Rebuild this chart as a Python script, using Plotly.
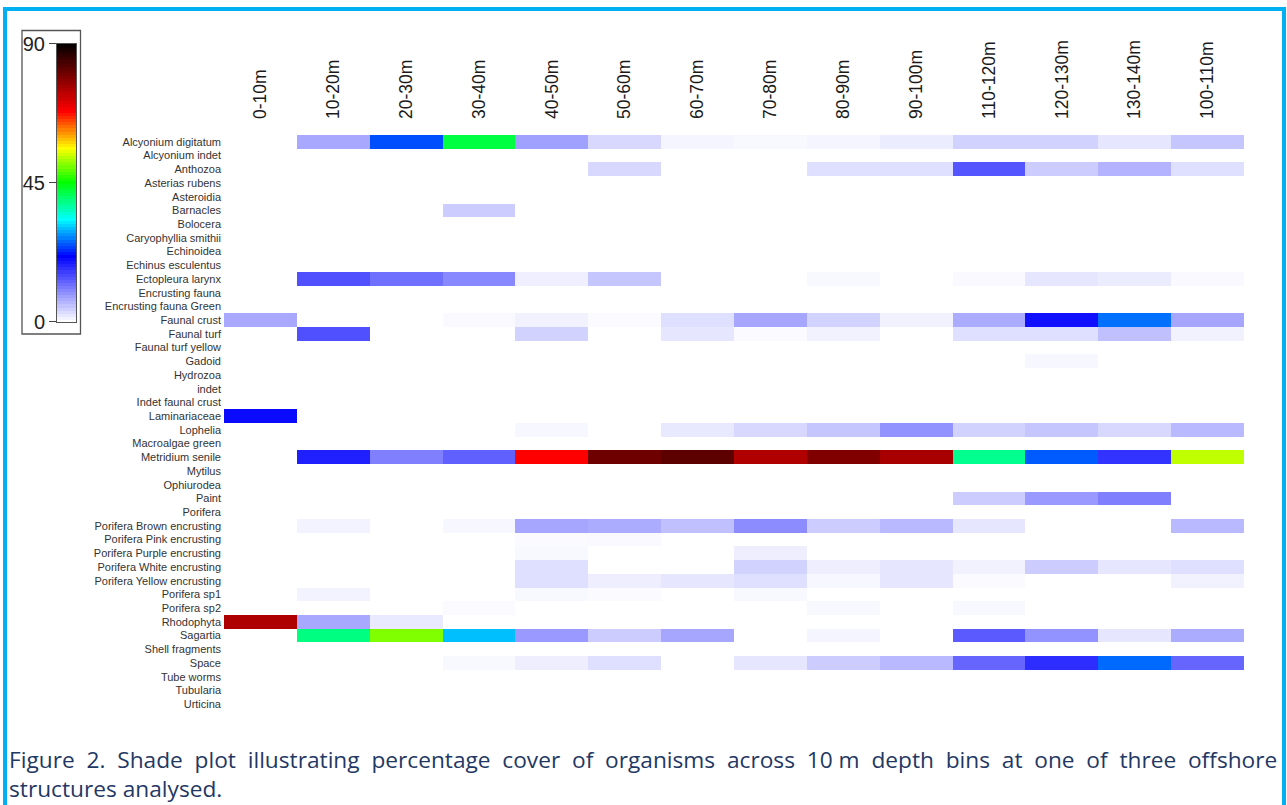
import plotly.graph_objects as go

W, H = 1287, 805

organisms = [
    "Alcyonium digitatum", "Alcyonium indet", "Anthozoa", "Asterias rubens", "Asteroidia",
    "Barnacles", "Bolocera", "Caryophyllia smithii", "Echinoidea", "Echinus esculentus",
    "Ectopleura larynx", "Encrusting fauna", "Encrusting fauna Green", "Faunal crust",
    "Faunal turf", "Faunal turf yellow", "Gadoid", "Hydrozoa", "indet", "Indet faunal crust",
    "Laminariaceae", "Lophelia", "Macroalgae green", "Metridium senile", "Mytilus",
    "Ophiurodea", "Paint", "Porifera", "Porifera Brown encrusting", "Porifera Pink encrusting",
    "Porifera Purple encrusting", "Porifera White encrusting", "Porifera Yellow encrusting",
    "Porifera sp1", "Porifera sp2", "Rhodophyta", "Sagartia", "Shell fragments", "Space",
    "Tube worms", "Tubularia", "Urticina",
]

depth_bins = ["0-10m", "10-20m", "20-30m", "30-40m", "40-50m", "50-60m", "60-70m",
              "70-80m", "80-90m", "90-100m", "110-120m", "120-130m", "130-140m", "100-110m"]

# percentage cover per organism (order of `organisms`), one list per depth bin
d0_10 = [0, 0, 0, 0, 0, 0, 0, 0, 0, 0, 0, 0, 0, 7.2, 0, 0, 0, 0, 0, 0,
         20.2, 0, 0, 0, 0, 0, 0, 0, 0, 0, 0, 0, 0, 0, 0, 75, 0, 0, 0, 0, 0, 0]
d10_20 = [7.2, 0, 0, 0, 0, 0, 0, 0, 0, 0, 14.4, 0, 0, 0, 14.4, 0, 0, 0, 0, 0,
          0, 0, 0, 18.4, 0, 0, 0, 0, 1, 0, 0, 0, 0, 1, 0, 7.2, 39, 0, 0, 0, 0, 0]
d20_30 = [24.7, 0, 0, 0, 0, 0, 0, 0, 0, 0, 11.8, 0, 0, 0, 0, 0, 0, 0, 0, 0,
          0, 0, 0, 10.5, 0, 0, 0, 0, 0, 0, 0, 0, 0, 0, 0, 1.8, 50.5, 0, 0, 0, 0, 0]
d30_40 = [42, 0, 0, 0, 0, 4.2, 0, 0, 0, 0, 9.8, 0, 0, 0.5, 0, 0, 0, 0, 0, 0,
          0, 0, 0, 13.1, 0, 0, 0, 0, 0.7, 0, 0, 0, 0, 0, 0.4, 0, 30, 0, 0.6, 0, 0, 0]
d40_50 = [7.8, 0, 0, 0, 0, 0, 0, 0, 0, 0, 1.3, 0, 0, 1.1, 3.7, 0, 0, 0, 0, 0,
          0, 0.7, 0, 68, 0, 0, 0, 0, 7.3, 0.3, 0.6, 2.6, 2.6, 0.6, 0, 0, 8.4, 0, 1.4, 0, 0, 0]
d50_60 = [3.2, 0, 3.2, 0, 0, 0, 0, 0, 0, 0, 4.7, 0, 0, 0.3, 0, 0, 0, 0, 0, 0,
          0, 0, 0, 80.5, 0, 0, 0, 0, 6.8, 0.5, 0, 0, 1.4, 0.4, 0, 0, 4.2, 0, 2.6, 0, 0, 0]
d60_70 = [0.8, 0, 0, 0, 0, 0, 0, 0, 0, 0, 0, 0, 0, 2.6, 2.1, 0, 0, 0, 0, 0,
          0, 1.9, 0, 82, 0, 0, 0, 0, 5.2, 0, 0, 0, 2.1, 0, 0, 0, 7.3, 0, 0, 0, 0, 0]
d70_80 = [0.6, 0, 0, 0, 0, 0, 0, 0, 0, 0, 0, 0, 0, 7.3, 0.3, 0, 0, 0, 0, 0,
          0, 3.2, 0, 74.8, 0, 0, 0, 0, 9.5, 0, 1.4, 3.7, 2.6, 0.6, 0, 0, 0, 0, 2.1, 0, 0, 0]
d80_90 = [0.8, 0, 2.6, 0, 0, 0, 0, 0, 0, 0, 0.6, 0, 0, 3.7, 1.1, 0, 0, 0, 0, 0,
          0, 4.7, 0, 79, 0, 0, 0, 0, 4.2, 0, 0, 1.4, 0.7, 0, 0.6, 0, 0.8, 0, 4.2, 0, 0, 0]
d90_100 = [1.6, 0, 2.6, 0, 0, 0, 0, 0, 0, 0, 0, 0, 0, 1.1, 0, 0, 0, 0, 0, 0,
           0, 8.9, 0, 75.5, 0, 0, 0, 0, 5.8, 0, 0, 2.1, 2.1, 0, 0, 0, 0, 0, 5.8, 0, 0, 0]
d110_120 = [3.7, 0, 14, 0, 0, 0, 0, 0, 0, 0, 0.5, 0, 0, 6.8, 2.6, 0, 0, 0, 0, 0,
            0, 3.7, 0, 38.3, 0, 0, 4.2, 0, 2.1, 0, 0, 1.1, 0.4, 0, 0.6, 0, 13.6, 0, 12.6, 0, 0, 0]
d120_130 = [3.7, 0, 4.2, 0, 0, 0, 0, 0, 0, 0, 2.1, 0, 0, 19.7, 2.6, 0, 0.7, 0, 0, 0,
            0, 4.7, 0, 25.3, 0, 0, 8.4, 0, 0, 0, 0, 4.2, 0, 0, 0, 0, 8.9, 0, 17.3, 0, 0, 0]
d130_140 = [2.1, 0, 6.3, 0, 0, 0, 0, 0, 0, 0, 1.6, 0, 0, 26.3, 5.2, 0, 0, 0, 0, 0,
            0, 3.2, 0, 16.8, 0, 0, 10.5, 0, 0, 0, 0, 2.1, 0, 0, 0, 0, 2.1, 0, 26, 0, 0, 0]
d100_110 = [4.7, 0, 2.6, 0, 0, 0, 0, 0, 0, 0, 0.5, 0, 0, 7.3, 1.1, 0, 0, 0, 0, 0,
            0, 5.8, 0, 53.3, 0, 0, 0, 0, 5.8, 0, 0, 2.6, 1.1, 0, 0, 0, 6.8, 0, 12.6, 0, 0, 0]

columns = [d0_10, d10_20, d20_30, d30_40, d40_50, d50_60, d60_70, d70_80,
           d80_90, d90_100, d110_120, d120_130, d130_140, d100_110]

z = [[col[i] for col in columns] for i in range(len(organisms))]

zmax = 90
scale_ticks = [0, 45, 90]
colorscale = [
    [0.0, "#FFFFFF"],
    [21 / 90, "#0000FF"],
    [33 / 90, "#00FFFF"],
    [45 / 90, "#00FF00"],
    [56 / 90, "#FFFF00"],
    [62 / 90, "#FF8000"],
    [68 / 90, "#FF0000"],
    [79 / 90, "#800000"],
    [1.0, "#000000"],
]

caption_words1 = ["Figure", "2.", "Shade", "plot", "illustrating", "percentage", "cover", "of",
                  "organisms", "across", "10\u00a0m", "depth", "bins", "at", "one", "of",
                  "three", "offshore"]
caption_line2 = "structures analysed."

fig = go.Figure()

fig.add_trace(go.Heatmap(
    z=z, x=depth_bins, y=organisms,
    zmin=0, zmax=zmax, colorscale=colorscale, showscale=False,
    xaxis="x", yaxis="y",
    hovertemplate="%{y}<br>%{x}: %{z}<extra></extra>",
))

# legend gradient bar (drawn as its own heatmap so labels sit on the left)
legend_levels = list(range(0, zmax + 1))
fig.add_trace(go.Heatmap(
    z=[[v] for v in legend_levels], y=legend_levels, x=[0],
    zmin=0, zmax=zmax, colorscale=colorscale, showscale=False,
    xaxis="x2", yaxis="y2", hoverinfo="skip",
))


def px_x(p):
    return p / W


def px_y(p):
    return 1 - p / H


def justify(words):
    return (" \u00a0").join(words)


cap_font = dict(family="Open Sans, Lato, sans-serif", size=22.7, color="#1F3864")

fig.update_layout(
    width=W, height=H,
    margin=dict(l=0, r=0, t=0, b=0, autoexpand=False),
    paper_bgcolor="white", plot_bgcolor="white",
    font=dict(family="Liberation Sans, Arial, sans-serif", color="#222222"),
    xaxis=dict(
        domain=[px_x(224), px_x(1244)], side="top", tickangle=-90,
        showgrid=False, zeroline=False, showline=False, ticks="",
        ticklabelstandoff=15, automargin=False,
        tickfont=dict(size=17.5, color="#1a1a1a"), anchor="y",
    ),
    yaxis=dict(
        domain=[px_y(711), px_y(135)], autorange="reversed",
        showgrid=False, zeroline=False, showline=False, ticks="",
        ticklabelstandoff=2, automargin=False,
        tickfont=dict(size=11, color="#333333"), anchor="x",
    ),
    xaxis2=dict(
        domain=[px_x(57), px_x(76)], anchor="y2", showticklabels=False,
        showgrid=False, zeroline=False, ticks="", showline=True, mirror=True,
        linecolor="#555555", linewidth=1, range=[-0.5, 0.5], automargin=False,
    ),
    yaxis2=dict(
        domain=[px_y(321.5), px_y(43.5)], anchor="x2", range=[0, zmax],
        tickvals=scale_ticks, ticks="outside", ticklen=7, tickcolor="#444444",
        showgrid=False, zeroline=False, showline=True, mirror=True,
        linecolor="#555555", linewidth=1, automargin=False,
        tickfont=dict(size=20, color="#222222"), side="left",
    ),
    shapes=[
        dict(type="rect", xref="paper", yref="paper",
             x0=px_x(22), x1=px_x(80.5), y0=px_y(334), y1=px_y(30.5),
             line=dict(color="#555555", width=1.3), fillcolor="rgba(0,0,0,0)", layer="below"),
        dict(type="rect", xref="paper", yref="paper",
             x0=px_x(5), x1=px_x(1284), y0=px_y(830), y1=px_y(9),
             line=dict(color="#00B0F0", width=4), fillcolor="rgba(0,0,0,0)"),
    ],
    annotations=[
        dict(xref="paper", yref="paper", x=px_x(7), y=px_y(759),
             xanchor="left", yanchor="middle", showarrow=False, align="left",
             text=justify(caption_words1), font=cap_font),
        dict(xref="paper", yref="paper", x=px_x(7), y=px_y(788),
             xanchor="left", yanchor="middle", showarrow=False, align="left",
             text=caption_line2, font=cap_font),
    ],
)

fig.write_html("out.html", config={"displayModeBar": False},
               post_script="document.body.style.margin='0px';")
